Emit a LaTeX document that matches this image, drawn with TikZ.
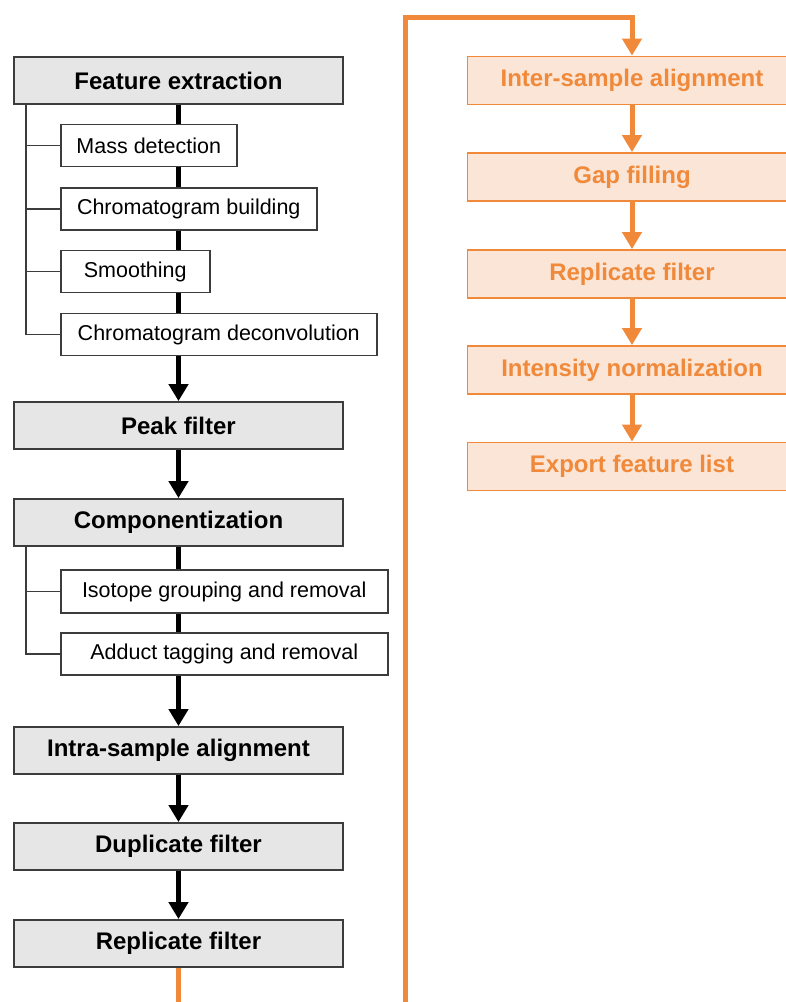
\documentclass[tikz,border=0pt]{standalone}
\usepackage{fontspec}
\setmainfont{Liberation Sans}
\usetikzlibrary{arrows.meta,positioning}
\definecolor{boxgrey}{HTML}{E6E6E6}
\definecolor{edgegrey}{HTML}{3C3C3C}
\definecolor{orng}{HTML}{F0893A}
\definecolor{peach}{HTML}{FBE5D6}
\tikzset{
 mainbox/.style={draw=edgegrey,line width=1.8pt,fill=boxgrey,minimum width=329pt,minimum height=47pt,inner sep=0pt,font=\fontsize{24}{26}\selectfont\bfseries},
 subbox/.style={draw=edgegrey,line width=1.5pt,fill=white,anchor=west,minimum height=42pt,inner sep=0pt,font=\fontsize{21.5}{23}\selectfont},
 orbox/.style={draw=orng,line width=1.8pt,fill=peach,text=orng,minimum width=329pt,minimum height=48pt,inner sep=0pt,font=\fontsize{24}{26}\selectfont\bfseries},
 flow/.style={line width=5pt,-{Triangle[length=17pt,width=19pt]}},
 bracket/.style={draw=edgegrey,line width=1.5pt}
}

\begin{document}
\begin{tikzpicture}[x=1pt,y=-1pt]
 \useasboundingbox (0,0) rectangle (785,1002);
 % main steps
 \node[mainbox] (s_feat) at (178.5,80.5) {Feature extraction};
 \node[mainbox] (s_peak) at (178.5,425.5) {Peak filter};
 \node[mainbox] (s_comp) at (178.5,522.5) {Componentization};
 \node[mainbox] (s_intra) at (178.5,750.5) {Intra-sample alignment};
 \node[mainbox] (s_dup) at (178.5,846.5) {Duplicate filter};
 \node[mainbox] (s_rep) at (178.5,943.5) {Replicate filter};

 \node[orbox] (s_inter) at (632,80.5) {Inter-sample alignment};
 \node[orbox] (s_gap) at (632,177) {Gap filling};
 \node[orbox] (s_rep2) at (632,274) {Replicate filter};
 \node[orbox] (s_norm) at (632,370) {Intensity normalization};
 \node[orbox] (s_exp) at (632,466.5) {Export feature list};

 \coordinate (c_out) at (178.5,1002);
 \coordinate (c_in) at (405,1002);
 \coordinate (c_top) at (405,17);
 \coordinate (b_feat) at (26,104);
 \coordinate (b_comp) at (26,546);

 \path[flow]
 (s_feat) edge (s_peak)
 (s_peak) edge (s_comp)
 (s_comp) edge (s_intra)
 (s_intra) edge (s_dup)
 (s_dup) edge (s_rep);

 \draw[orng,line width=5pt] (s_rep) -- (c_out);
 \draw[orng,flow] (c_in) -- (c_top) -| (s_inter);
 \path[orng,flow]
 (s_inter) edge (s_gap)
 (s_gap) edge (s_rep2)
 (s_rep2) edge (s_norm)
 (s_norm) edge (s_exp);

 % sub steps
 \node[subbox,minimum width=176pt] (s_mass) at (60,145.5) {Mass detection};
 \node[subbox,minimum width=256pt] (s_build) at (60,209) {Chromatogram building};
 \node[subbox,minimum width=149pt] (s_smooth) at (60,271.5) {Smoothing};
 \node[subbox,minimum width=316pt] (s_deconv) at (60,334.5) {Chromatogram deconvolution};
 \node[subbox,minimum width=327pt,minimum height=43pt] (s_iso) at (60,591.5) {Isotope grouping and removal};
 \node[subbox,minimum width=327pt] (s_add) at (60,654) {Adduct tagging and removal};

 \draw[bracket] (b_feat) |- (s_deconv.west);
 \draw[bracket] (s_mass.west) -- (s_mass.west -| b_feat);
 \draw[bracket] (s_build.west) -- (s_build.west -| b_feat);
 \draw[bracket] (s_smooth.west) -- (s_smooth.west -| b_feat);
 \draw[bracket] (b_comp) |- (s_add.west);
 \draw[bracket] (s_iso.west) -- (s_iso.west -| b_comp);
\end{tikzpicture}
\end{document}
